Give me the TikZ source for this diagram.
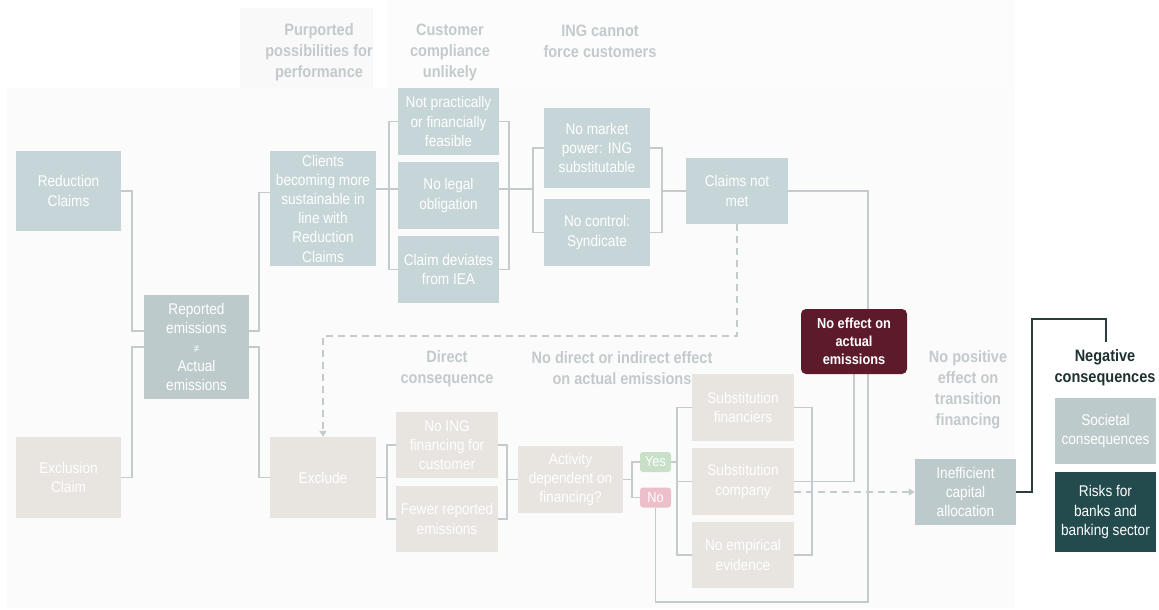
\documentclass[tikz,border=0pt]{standalone}
\usepackage{fontspec}
\setmainfont{Liberation Sans}[FakeStretch=0.88]
\usetikzlibrary{arrows.meta}

\definecolor{panelgray}{HTML}{FBFBFB}
\definecolor{headgray}{HTML}{F9F9F9}
\definecolor{stripgray}{HTML}{FCFCFC}
\definecolor{bluegray}{HTML}{C6D5D7}
\definecolor{midgray}{HTML}{BDCACB}
\definecolor{sand}{HTML}{E8E4DF}
\definecolor{wiregray}{HTML}{C3CBCD}
\definecolor{titlegray}{HTML}{C4CACC}
\definecolor{yesgreen}{HTML}{C8DFC8}
\definecolor{nopink}{HTML}{EDBFCB}
\definecolor{maroon}{HTML}{5D1A2B}
\definecolor{darkteal}{HTML}{234A4C}
\definecolor{darkwire}{HTML}{2C3D3E}
\definecolor{darktext}{HTML}{1F3031}

\pgfdeclarelayer{panel}
\pgfdeclarelayer{wires}
\pgfsetlayers{panel,wires,main}

\begin{document}
\begin{tikzpicture}[x=1pt,y=-1pt,
  box/.style={rectangle,inner sep=0pt,text=white,align=center,
    font=\fontsize{15.5}{19.2}\selectfont},
  wh/.style 2 args={minimum width=#1pt,minimum height=#2pt},
  claimbox/.style={box,fill=bluegray},
  midbox/.style={box,fill=midgray},
  sandbox/.style={box,fill=sand},
  tag/.style={rectangle,rounded corners=3pt,inner sep=0pt,text=white,
    minimum width=31pt,minimum height=20pt,font=\fontsize{14.5}{16}\selectfont},
  heading/.style={align=center,text=titlegray,inner sep=0pt,
    font=\fontsize{16.5}{21}\selectfont\bfseries},
  wire/.style={draw=wiregray,line width=1.8pt},
  dwire/.style={draw=wiregray,line width=1.6pt,dash pattern=on 7pt off 5pt,
    -{Triangle[width=7pt,length=6pt]}},
  boldwire/.style={draw=darkwire,line width=2pt}]

\useasboundingbox (0,0) rectangle (1159,610);

% background panels
\begin{pgfonlayer}{panel}
  \fill[white] (0,0) rectangle (1159,610);
  \fill[panelgray] (7,88) rectangle (1015,608);
  \fill[headgray] (240,8) rectangle (373,88);
  \fill[stripgray] (387,0) rectangle (1015,88);
\end{pgfonlayer}

% column headings
\node[heading] (hpurp) at (319,52) {Purported\\possibilities for\\performance};
\node[heading] (hcust) at (450,52) {Customer\\compliance\\unlikely};
\node[heading] (hing)  at (600,41.5) {ING cannot\\force customers};
\node[heading] (hdir)  at (447,368.5) {Direct\\consequence};
\node[heading] (hnod)  at (622,368.5) {No direct or indirect effect\\on actual emissions};
\node[heading] (hpos)  at (968,389.5) {No positive\\effect on\\transition\\financing};
\node[heading,text=darktext] (neg) at (1105,367.5) {Negative\\consequences};

% claims and their gap
\node[claimbox,wh={105}{80}] (red) at (68.5,191) {Reduction\\Claims};
\node[sandbox,wh={105}{81}] (excl) at (68.5,477.5) {Exclusion\\Claim};
\node[midbox,wh={105}{104}] (rep) at (196.5,347)
  {Reported\\emissions\\{\fontsize{11}{19.2}\selectfont ≠}\\Actual\\emissions};
\node[claimbox,wh={106}{115}] (cli) at (323,208.5)
  {Clients\\becoming more\\sustainable in\\line with\\Reduction\\Claims};
\node[sandbox,wh={106}{81}] (exc) at (323,477.5) {Exclude};

% upper branch
\node[claimbox,wh={101}{67}] (np) at (448.5,121.5) {Not practically\\or financially\\feasible};
\node[claimbox,wh={101}{67}] (nl) at (448.5,195.5) {No legal\\obligation};
\node[claimbox,wh={101}{67}] (cd) at (448.5,269.5) {Claim deviates\\from IEA};
\node[claimbox,wh={106}{80}] (nm) at (597,148) {No market\\power: ING\\substitutable};
\node[claimbox,wh={106}{67}] (nc) at (597,232.5) {No control:\\Syndicate};
\node[claimbox,wh={102}{66}] (cnm) at (737,191) {Claims not\\met};

% lower branch
\node[sandbox,wh={102}{66}] (noing) at (447,445) {No ING\\financing for\\customer};
\node[sandbox,wh={102}{66}] (few) at (447,519) {Fewer reported\\emissions};
\node[sandbox,wh={105}{67}] (act) at (570.5,479.5) {Activity\\dependent on\\financing?};
\node[tag,fill=yesgreen] (yes) at (655.5,462) {Yes};
\node[tag,fill=nopink] (no) at (655.5,497.5) {No};
\node[sandbox,wh={102}{67}] (sf) at (743,407.5) {Substitution\\financiers};
\node[sandbox,wh={102}{67}] (sc) at (743,481.5) {Substitution\\company};
\node[sandbox,wh={102}{66}] (ne) at (743,555) {No empirical\\evidence};

% outcomes
\node[rectangle,rounded corners=5pt,fill=maroon,text=white,align=center,
  minimum width=106pt,minimum height=65pt,inner sep=0pt,
  font=\fontsize{14.5}{18}\selectfont\bfseries] (noeff) at (854,341.5)
  {No effect on\\actual\\emissions};
\node[midbox,wh={101}{66}] (ineff) at (965.5,492) {Inefficient\\capital\\allocation};
\node[midbox,wh={101}{66}] (soc) at (1105.5,431) {Societal\\consequences};
\node[box,fill=darkteal,wh={101}{80}] (risk) at (1105.5,512) {Risks for\\banks and\\banking sector};
\coordinate (negtop) at (1106,342);

% connectors
\begin{pgfonlayer}{wires}
  \draw[wire] (red.east) -| (132,331) -- ([yshift=16pt]rep.west);
  \draw[wire] (excl.east) -| (132,347) -- (rep.west);
  \draw[wire] ([yshift=16pt]rep.east) -| (259,192.5) -- ([yshift=16pt]cli.west);
  \draw[wire] (rep.east) -| (259,477.5) -- (exc.west);

  \coordinate (k1) at ([yshift=19.5pt]cli.east);
  \draw[wire] (k1) -- (k1 -| nl.west);
  \draw[wire] (np.west) -| (389,269.5) -- (cd.west);
  \draw[wire] (np.east) -| (509,269.5) -- (cd.east);
  \draw[wire] (k1 -| nl.east) -- (533,189);
  \draw[wire] (nm.west) -| (533,232.5) -- (nc.west);
  \draw[wire] (nm.east) -| (662,232.5) -- (nc.east);
  \draw[wire] (662,191) -- (cnm.west);
  \draw[wire] (cnm.east) -| (868,602) -| (no.south);

  \coordinate (d1) at (323,336);
  \draw[dwire] (cnm.south) |- (d1) -- (exc.north);

  \draw[wire] (exc.east) -- (387,477.5);
  \draw[wire] (noing.west) -| (387,519) -- (few.west);
  \draw[wire] (noing.east) -| (507,519) -- (few.east);
  \draw[wire] (507,479.5) -- (act.west);
  \draw[wire] (act.east) -- (632,479.5);
  \draw[wire] (yes.west) -| (632,497.5) -- (no.west);
  \draw[wire] (yes.east) -- (677,462);
  \draw[wire] (sf.west) -| (677,555) -- (ne.west);
  \draw[wire] (677,481.5) -- (sc.west);
  \draw[wire] (sf.east) -| (812,555) -- (ne.east);
  \draw[wire] (sc.east) -| (noeff.south);
  \draw[dwire] ([yshift=-10.5pt]sc.east) -- (ineff.west);

  \draw[boldwire] (ineff.east) -| (1032,319) -| (negtop);
\end{pgfonlayer}

\end{tikzpicture}
\end{document}
